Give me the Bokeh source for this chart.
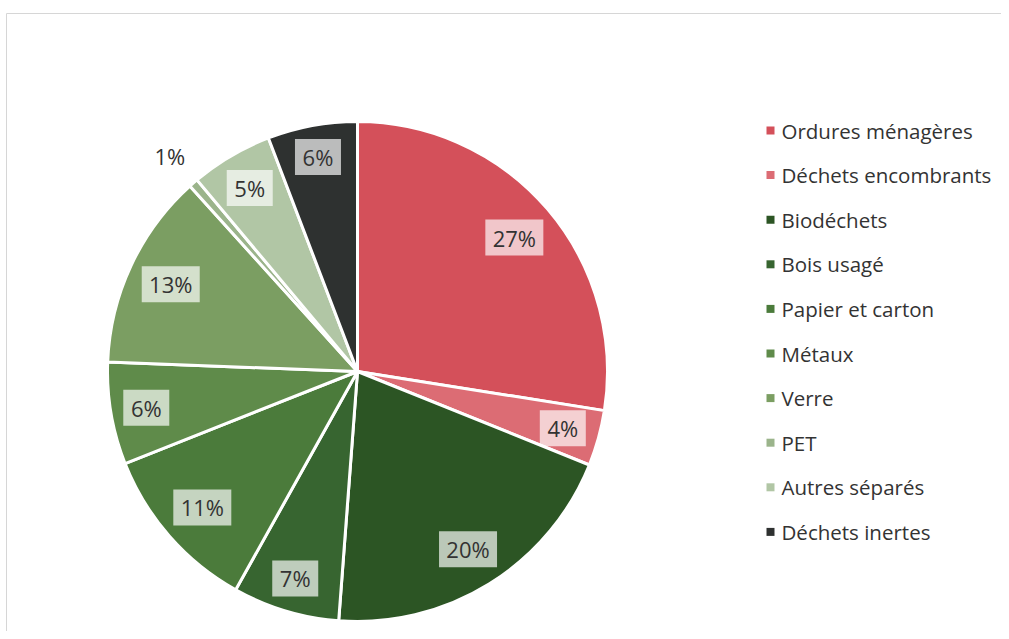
import math
from bokeh.plotting import figure
from bokeh.models import Range1d, ColumnDataSource
from bokeh.core.properties import value
from bokeh.embed import file_html
from bokeh.resources import INLINE

# ---- data ----
categories = ["Ordures ménagères", "Déchets encombrants", "Biodéchets", "Bois usagé",
              "Papier et carton", "Métaux", "Verre", "PET", "Autres séparés", "Déchets inertes"]
shares = [27.5, 3.6, 20.1, 6.9, 10.9, 6.6, 12.7, 0.6, 5.3, 5.8]
labels = ["27%", "4%", "20%", "7%", "11%", "6%", "13%", "1%", "5%", "6%"]
colors = ["#d4505a", "#dc6c74", "#2c5524", "#376530", "#4b7b3b", "#5f8b4a",
          "#7b9e62", "#9bb48b", "#b1c6a5", "#2e3130"]
outside = [False, False, False, False, False, False, False, True, False, False]

# ---- layout ----
W, H = 1001, 631
CX, CY, R = 357, 260, 250
FONT = "Open Sans"

p = figure(width=W, height=H, output_backend="svg", toolbar_location=None,
           x_range=Range1d(0, W), y_range=Range1d(0, H), min_border=0)
p.axis.visible = False
p.grid.visible = False
p.outline_line_color = None
p.background_fill_color = "white"

# light chart-area border (top and left)
p.segment(x0=[6, 6], y0=[618, 618], x1=[W, 6], y1=[618, 0],
          line_color="#d6d6d6", line_width=1)

total = sum(shares)
starts, ends, mids = [], [], []
cum = 0.0
for s in shares:
    a0 = cum / total
    cum += s
    a1 = cum / total
    # clockwise from 12 o'clock
    starts.append(math.pi / 2 - 2 * math.pi * a1)
    ends.append(math.pi / 2 - 2 * math.pi * a0)
    mids.append(math.pi / 2 - 2 * math.pi * (a0 + a1) / 2)

src = ColumnDataSource(dict(start=starts, end=ends, color=colors))
p.wedge(x=CX, y=CY, radius=R, start_angle="start", end_angle="end",
        fill_color="color", line_color="white", line_width=3, source=src)

# data labels
bx, by, bw, bh, tx, ty, tl = [], [], [], [], [], [], []
ox, oy, ol = [], [], []
for lab, m, out in zip(labels, mids, outside):
    w = 22 + 12 * len(lab)
    h = 36
    dx, dy = math.cos(m), math.sin(m)
    ext = abs(dx) * w / 2 + abs(dy) * h / 2
    if out:
        r = R + 7 + ext
        ox.append(CX + r * dx); oy.append(CY + r * dy); ol.append(lab)
    else:
        r = R - 10 - ext
        x, y = CX + r * dx, CY + r * dy
        bx.append(x); by.append(y); bw.append(w); bh.append(h)
        tx.append(x); ty.append(y); tl.append(lab)

p.rect(x=bx, y=by, width=bw, height=bh, fill_color="white", fill_alpha=0.68,
       line_color=None)
p.text(x=tx, y=ty, text=tl, text_font=value(FONT), text_font_size="22px",
       text_color="#333333", text_align="center", text_baseline="middle")
p.text(x=ox, y=oy, text=ol, text_font=value(FONT), text_font_size="22px",
       text_color="#333333", text_align="center", text_baseline="middle")

# legend
LX, LY0, LDY = 770, 501, 44.6
ly = [LY0 - i * LDY for i in range(len(categories))]
p.rect(x=[LX] * len(categories), y=ly, width=8, height=8, fill_color=colors,
       line_color=None)
p.text(x=[LX + 11] * len(categories), y=ly, text=categories, text_font=value(FONT),
       text_font_size="20.5px", text_color="#333333", text_align="left",
       text_baseline="middle")

open("out.html", "w").write(file_html(p, INLINE))
